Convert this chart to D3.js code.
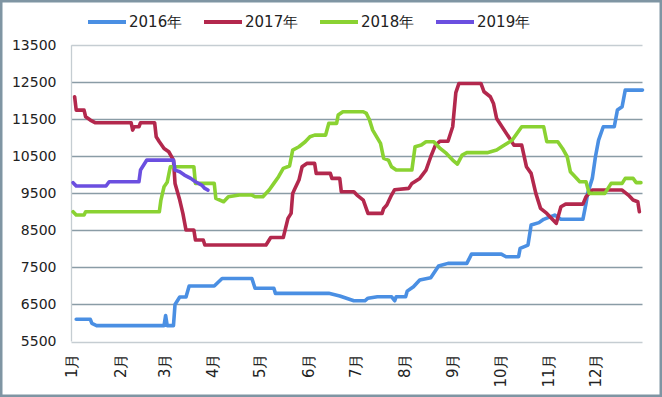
<!DOCTYPE html>
<html><head><meta charset="utf-8">
<script src="https://cdn.jsdelivr.net/npm/d3@7"></script>
<style>html,body{margin:0;padding:0;background:#fff;}svg{display:block;}</style>
</head><body>
<svg id="chart" width="662" height="397"></svg>
<script>
const seriesNames = ["2016年", "2017年", "2018年", "2019年"];
const seriesColors = ["#4a8fe3", "#b3284d", "#8ad232", "#6b4fe0"];
const monthLabels = ["1月","2月","3月","4月","5月","6月","7月","8月","9月","10月","11月","12月"];
const yTicks = [5500, 6500, 7500, 8500, 9500, 10500, 11500, 12500, 13500];

const dates2016 = ["01-04","01-13","01-14","01-17","02-28","03-01","03-02","03-03","03-07","03-08","03-11","03-15","03-17","04-02","04-07","04-26","04-28","05-10","05-11","06-14","06-21","06-30","07-07","07-09","07-15","07-24","07-26","07-27","08-02","08-03","08-07","08-11","08-18","08-23","08-29","09-10","09-13","10-02","10-05","10-13","10-14","10-19","10-21","10-26","10-29","11-05","11-09","11-23","11-25","11-26","11-29","12-01","12-03","12-06","12-13","12-15","12-18","12-20","12-31"];
const values2016 = [6100,6100,5990,5930,5930,5930,6200,5930,5930,6500,6700,6700,7000,7000,7200,7200,6940,6940,6800,6800,6730,6600,6600,6670,6710,6710,6600,6710,6710,6860,6980,7160,7220,7540,7610,7610,7860,7860,7790,7790,8015,8105,8645,8710,8800,8915,8800,8800,9230,9500,9905,10490,10940,11300,11300,11750,11840,12290,12290];

const dates2017 = ["01-03","01-04","01-09","01-10","01-13","01-16","02-08","02-09","02-10","02-13","02-14","02-23","02-24","02-26","03-01","03-04","03-07","03-08","03-11","03-13","03-15","03-20","03-21","03-26","03-27","05-05","05-08","05-16","05-19","05-21","05-22","05-23","05-26","05-28","05-31","06-05","06-06","06-15","06-16","06-21","06-22","06-30","07-02","07-06","07-09","07-18","07-19","07-21","07-24","07-26","08-04","08-06","08-11","08-15","08-18","08-21","08-24","08-29","09-01","09-03","09-05","09-19","09-21","09-25","09-27","09-29","10-08","10-10","10-15","10-18","10-21","10-24","10-27","10-31","11-04","11-06","11-09","11-12","11-23","11-25","11-29","12-18","12-22","12-25","12-28","12-29"];
const values2017 = [12110,11750,11750,11570,11480,11410,11410,11210,11300,11300,11410,11410,11030,10895,10715,10625,10400,9770,9320,8960,8510,8510,8240,8240,8105,8105,8310,8310,8825,8960,9500,9590,9860,10220,10310,10310,10040,10040,9905,9905,9545,9545,9455,9320,8960,8960,9095,9185,9455,9600,9635,9770,9905,10130,10490,10805,10910,10910,11300,12220,12470,12470,12245,12110,11930,11525,10940,10805,10805,10220,10040,9500,9095,8960,8780,8690,9140,9210,9210,9410,9590,9590,9455,9320,9275,9005];

const dates2018 = ["01-02","01-04","01-09","01-10","02-26","02-27","03-01","03-03","03-05","03-20","03-21","04-02","04-03","04-08","04-11","04-18","04-26","04-28","05-03","05-07","05-10","05-13","05-16","05-20","05-22","05-26","05-30","06-02","06-05","06-12","06-14","06-19","06-20","06-23","07-06","07-08","07-10","07-12","07-17","07-19","07-22","07-24","07-27","08-06","08-08","08-12","08-15","08-20","08-24","08-28","09-01","09-04","09-07","09-10","09-23","09-29","10-03","10-09","10-15","10-29","10-31","11-07","11-10","11-13","11-15","11-17","11-21","11-25","11-27","12-07","12-11","12-18","12-20","12-25","12-27","12-30"];
const values2018 = [9005,8915,8915,9005,9005,9320,9680,9800,10220,10220,9770,9770,9365,9275,9410,9455,9455,9410,9410,9590,9770,9950,10175,10240,10670,10760,10895,11030,11075,11075,11390,11390,11615,11705,11705,11660,11480,11210,10850,10445,10400,10220,10130,10130,10760,10805,10895,10895,10715,10580,10400,10290,10535,10600,10600,10670,10780,10940,11300,11300,10895,10895,10715,10490,10085,9995,9815,9815,9500,9500,9770,9770,9905,9905,9790,9790];

const dates2019 = ["01-02","01-04","01-23","01-25","02-13","02-14","02-18","03-07","03-08","03-11","03-14","03-18","03-21","03-25","03-27","03-29"];
const values2019 = [9790,9700,9700,9815,9815,10130,10400,10400,10130,10085,9995,9905,9815,9725,9635,9590];

const allDates = [dates2016, dates2017, dates2018, dates2019];
const allValues = [values2016, values2017, values2018, values2019];

const parse = d3.timeParse("%Y-%m-%d");
const svg = d3.select("#chart");
const W = 662, H = 397;
const mLeft = 71.5, mRight = 642.5, mTop = 45.3, mBottom = 341.5;

const x = d3.scaleTime().domain([parse("2017-01-01"), parse("2017-12-31")]).range([mLeft, mRight]);
const y = d3.scaleLinear().domain([5500, 13500]).range([mBottom, mTop]);

// border
svg.append("rect").attr("x", 1.25).attr("y", 1.25).attr("width", W - 2.5).attr("height", H - 2.5)
  .attr("fill", "#fff").attr("stroke", "#7f95a3").attr("stroke-width", 2.5);

// gridlines
svg.append("g").selectAll("line").data(yTicks).join("line")
  .attr("x1", mLeft).attr("x2", mRight)
  .attr("y1", d => Math.round(y(d)) + 0.5).attr("y2", d => Math.round(y(d)) + 0.5)
  .attr("stroke", d => (d === 5500 || d === 13500) ? "#c5cdd2" : "#8a9ca6")
  .attr("stroke-width", 1.3);
// y axis line
svg.append("line").attr("x1", mLeft).attr("x2", mLeft).attr("y1", mTop).attr("y2", mBottom)
  .attr("stroke", "#c5cdd2").attr("stroke-width", 1.3);

// y labels
const yAxis = d3.axisLeft(y).tickValues(yTicks).tickSize(0).tickPadding(0).tickFormat(d3.format("d"));
const gy = svg.append("g").attr("transform", `translate(${mLeft - 15},0)`).call(yAxis);
gy.select(".domain").remove();
gy.selectAll("text").attr("font-family", "DejaVu Sans, sans-serif").attr("font-size", 14).attr("fill", "#222");

// x labels
const monthStarts = d3.range(12).map(i => new Date(2017, i, 1));
const xAxis = d3.axisBottom(x).tickValues(monthStarts).tickSize(0).tickPadding(0)
  .tickFormat((d, i) => monthLabels[i]);
const gx = svg.append("g").attr("transform", `translate(0,${mBottom})`).call(xAxis);
gx.select(".domain").remove();
gx.selectAll("text")
  .attr("font-family", "DejaVu Sans, sans-serif").attr("font-size", 15).attr("fill", "#222")
  .attr("text-anchor", "end")
  .attr("transform", "rotate(-90)")
  .attr("x", -12).attr("y", 0).attr("dy", "0.35em");

// lines
const line = d3.line().x(d => x(d[0])).y(d => y(d[1])).curve(d3.curveLinear);
allDates.forEach((ds, i) => {
  const pts = ds.map((s, j) => [parse("2017-" + s), allValues[i][j]]);
  svg.append("path").datum(pts).attr("d", line)
    .attr("fill", "none").attr("stroke", seriesColors[i]).attr("stroke-width", 3.6)
    .attr("stroke-linejoin", "round").attr("stroke-linecap", "round");
});

// legend
const legendX = [88, 204, 320, 436];
const lg = svg.append("g");
seriesNames.forEach((n, i) => {
  lg.append("line").attr("x1", legendX[i]).attr("x2", legendX[i] + 38).attr("y1", 22).attr("y2", 22)
    .attr("stroke", seriesColors[i]).attr("stroke-width", 4);
  lg.append("text").attr("x", legendX[i] + 41).attr("y", 22).attr("dy", "0.36em")
    .attr("font-family", "DejaVu Sans, sans-serif").attr("font-size", 15).attr("fill", "#222").text(n);
});
</script>
</body></html>
